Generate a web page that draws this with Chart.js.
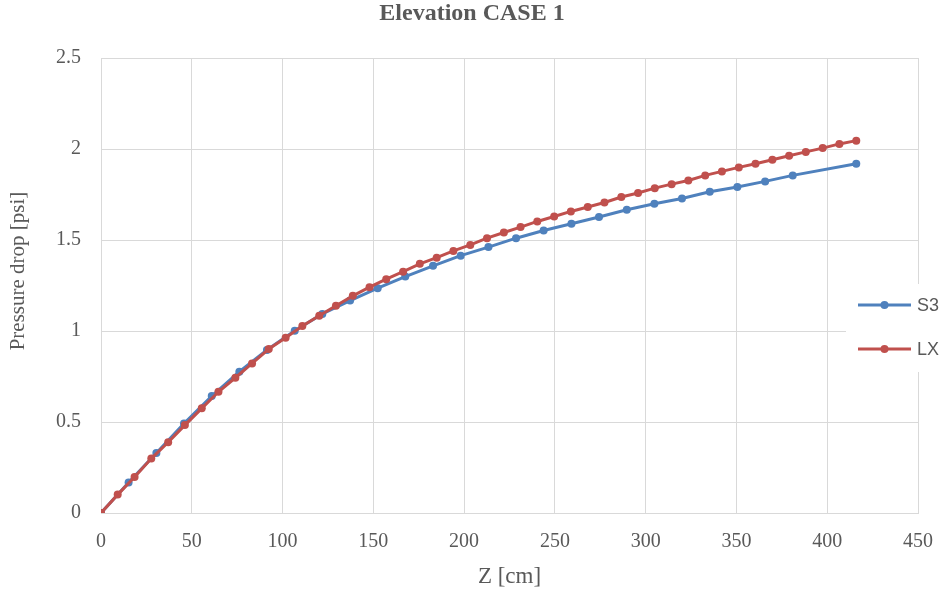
<!DOCTYPE html>
<html>
<head>
<meta charset="utf-8">
<script src="https://cdn.jsdelivr.net/npm/chart.js@4.4.0/dist/chart.umd.min.js"></script>
<style>
  html, body { margin: 0; padding: 0; background: #fff; }
  #wrap { width: 947px; height: 591px; }
</style>
</head>
<body>
<div id="wrap"><canvas id="chart" width="947" height="591"></canvas></div>
<script>
// S3 series (blue)
const s3Z = [0, 15.2, 30.5, 45.7, 61.0, 76.2, 91.4, 106.7, 121.9, 137.2, 152.4, 167.6, 182.9,
  198.1, 213.4, 228.6, 243.8, 259.1, 274.3, 289.6, 304.8, 320.0, 335.3, 350.5, 365.8, 381.0, 416.0];
const s3P = [0, 0.167, 0.330, 0.492, 0.643, 0.776, 0.896, 1.002, 1.094, 1.167, 1.235, 1.299, 1.358,
  1.414, 1.461, 1.510, 1.552, 1.589, 1.626, 1.666, 1.699, 1.728, 1.765, 1.791, 1.822, 1.855, 1.919];

// LX series (red)
const lxZ = [0, 9.2, 18.5, 27.7, 37.0, 46.2, 55.5, 64.7, 74.0, 83.2, 92.4, 101.7, 110.9, 120.2,
  129.4, 138.7, 147.9, 157.1, 166.4, 175.6, 184.9, 194.1, 203.4, 212.6, 221.9, 231.1, 240.3,
  249.6, 258.8, 268.1, 277.3, 286.6, 295.8, 305.0, 314.3, 323.5, 332.8, 342.0, 351.3, 360.5,
  369.8, 379.0, 388.2, 397.5, 406.7, 416.0];
const lxP = [0, 0.101, 0.198, 0.299, 0.389, 0.483, 0.575, 0.666, 0.743, 0.822, 0.901, 0.963,
  1.028, 1.084, 1.139, 1.193, 1.241, 1.285, 1.326, 1.369, 1.403, 1.440, 1.473, 1.510, 1.541,
  1.571, 1.602, 1.629, 1.657, 1.681, 1.706, 1.736, 1.758, 1.785, 1.807, 1.827, 1.855, 1.877,
  1.899, 1.919, 1.941, 1.963, 1.984, 2.005, 2.028, 2.046];

const seriesNames = ["S3", "LX"];
const seriesColors = ["#4f81bd", "#c0504d"];
const chartTitle = "Elevation CASE 1";
const yTitle = "Pressure drop [psi]";

const serif = "'Liberation Serif', 'Times New Roman', serif";
const textGray = "#595959";
const gridGray = "#d9d9d9";

function toPoints(xs, ys) {
  return xs.map((x, i) => ({ x: x, y: ys[i] }));
}

// title and y title sit where Excel put them, not where Chart.js centres them
const excelTexts = {
  id: "excelTexts",
  afterDraw(chart) {
    const ctx = chart.ctx;
    ctx.save();
    ctx.fillStyle = textGray;
    ctx.textAlign = "center";
    ctx.textBaseline = "middle";
    ctx.font = "bold 24px " + serif;
    ctx.fillText(chartTitle, 472, 14);

    ctx.translate(18, 271);
    ctx.rotate(-Math.PI / 2);
    ctx.font = "21px " + serif;
    ctx.fillText(yTitle, 0, 0);
    ctx.restore();
  }
};

// legend box drawn over the plot's right edge
const sideLegend = {
  id: "sideLegend",
  afterDraw(chart) {
    const ctx = chart.ctx;
    ctx.save();
    ctx.fillStyle = "#fff";
    ctx.fillRect(846, 284, 101, 88);
    const rows = [305, 349];
    chart.data.datasets.forEach((ds, i) => {
      const y = rows[i];
      ctx.strokeStyle = ds.borderColor;
      ctx.lineWidth = 3;
      ctx.beginPath();
      ctx.moveTo(858, y);
      ctx.lineTo(911, y);
      ctx.stroke();
      ctx.fillStyle = ds.borderColor;
      ctx.beginPath();
      ctx.arc(884.5, y, 4, 0, Math.PI * 2);
      ctx.fill();
      ctx.fillStyle = textGray;
      ctx.font = "18px 'Liberation Sans', Arial, sans-serif";
      ctx.textBaseline = "middle";
      ctx.fillText(ds.label, 917, y + 1);
    });
    ctx.restore();
  }
};

new Chart(document.getElementById("chart"), {
  type: "scatter",
  data: {
    datasets: [
      {
        label: seriesNames[0],
        data: toPoints(s3Z, s3P),
        borderColor: seriesColors[0],
        backgroundColor: seriesColors[0],
        showLine: true,
        borderWidth: 3,
        pointRadius: 4,
        pointBorderWidth: 0,
        order: 1
      },
      {
        label: seriesNames[1],
        data: toPoints(lxZ, lxP),
        borderColor: seriesColors[1],
        backgroundColor: seriesColors[1],
        showLine: true,
        borderWidth: 3,
        pointRadius: 4,
        pointBorderWidth: 0,
        order: 0
      }
    ]
  },
  options: {
    responsive: false,
    animation: false,
    devicePixelRatio: 1,
    layout: { padding: { left: 0, right: 29, top: 58, bottom: 0 } },
    plugins: {
      legend: { display: false },
      tooltip: { enabled: false },
      title: { display: false }
    },
    scales: {
      x: {
        type: "linear",
        min: 0,
        max: 450,
        ticks: { stepSize: 50, color: textGray, font: { family: serif, size: 20 }, padding: 17 },
        grid: { color: gridGray, lineWidth: 1, drawTicks: false },
        border: { color: gridGray },
        title: { display: true, text: "Z [cm]", color: textGray, font: { family: serif, size: 23 }, padding: { top: 13, bottom: 0 } },
        afterFit(scale) {
          scale.height = 78;
          scale.paddingLeft = 0;
          scale.paddingRight = 0;
        }
      },
      y: {
        type: "linear",
        min: 0,
        max: 2.5,
        ticks: {
          stepSize: 0.5,
          color: textGray,
          font: { family: serif, size: 20 },
          padding: 20,
          callback: v => String(v)
        },
        grid: { color: gridGray, lineWidth: 1, drawTicks: false },
        border: { color: gridGray },
        afterFit(scale) {
          scale.width = 101;
          scale.paddingTop = 0;
          scale.paddingBottom = 0;
        }
      }
    }
  },
  plugins: [excelTexts, sideLegend]
});
</script>
</body>
</html>
